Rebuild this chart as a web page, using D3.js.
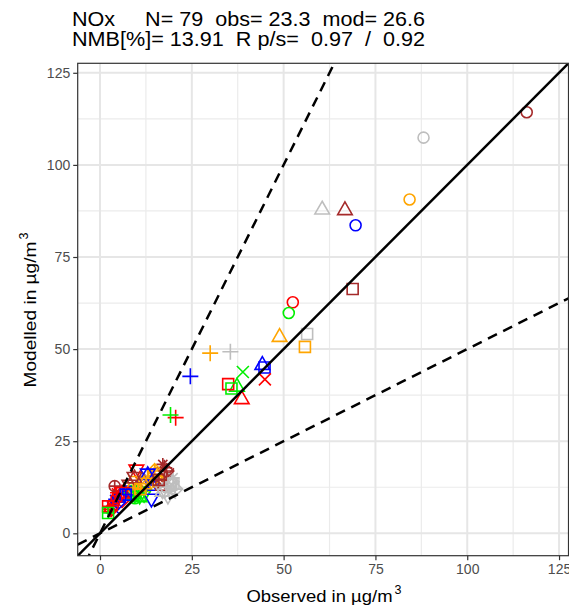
<!DOCTYPE html>
<html>
<head>
<meta charset="utf-8">
<script src="https://cdn.jsdelivr.net/npm/d3@7"></script>
<style>
  html, body { margin: 0; padding: 0; background: #fff; }
  svg { display: block; font-family: "Liberation Sans", Arial, sans-serif; }
</style>
</head>
<body>
<svg id="chart" width="569" height="609"></svg>
<script>
// ---------- DATA ----------
const titleLine1 = "NOx     N= 79  obs= 23.3  mod= 26.6";
const titleLine2 = "NMB[%]= 13.91  R p/s=  0.97  /  0.92";
const xTitle = "Observed in µg/m";
const yTitle = "Modelled in µg/m";
const unitExponent = "3";

const tickValues = [0, 25, 50, 75, 100, 125];
const minorTickValues = [12.5, 37.5, 62.5, 87.5, 112.5];

const colorPalette = { red: "#FF0000", green: "#00EE00", blue: "#0000FF", orange: "#FFA500", gray: "#BEBEBE", brown: "#A52A2A" };

// one entry per station: observed mean, modelled mean, marker shape, marker colour
const obs = [
  52.5, 51.4, 69.6, 84.3, 88.1, 116.2,
  38.6, 37.3, 44.2, 48.9, 60.5, 66.7,
  34.9, 35.8, 44.8, 55.8, 56.4, 68.8,
  20.6, 19.2, 24.6, 30.0, 35.5, 17.5,
  44.9, 38.9, 3.5, 12.0, 19.0, 18.5,
  6.0, 10.0, 12.0, 15.0, 19.5, 17.5,
  9.9, 12.0, 14.0, 10.0, 18.5, 8.0,
  5.0, 9.0, 14.0, 15.8, 19.4, 16.7,
  4.5, 11.0, 4.0, 13.0, 19.9, 17.1,
  3.0, 8.5, 5.0, 14.9, 20.5, 18.1,
  3.5, 9.5, 7.6, 9.0, 18.0, 4.0,
  6.0, 10.8, 13.0, 12.0, 17.0, 9.4,
  2.2, 2.2, 7.0, 11.0, 20.0, 16.0,
  4.5
];
const mod = [
  62.7, 59.8, 83.6, 90.6, 107.4, 114.3,
  36.6, 40.0, 45.9, 53.5, 88.1, 87.9,
  40.5, 39.3, 45.0, 50.6, 54.1, 66.3,
  31.4, 32.1, 42.6, 48.9, 49.3, 17.8,
  41.8, 43.8, 7.0, 12.5, 11.0, 16.0,
  9.0, 11.0, 14.0, 16.0, 14.0, 15.5,
  17.1, 10.5, 9.2, 14.0, 10.0, 13.0,
  10.0, 10.5, 13.2, 14.1, 13.2, 13.2,
  11.0, 11.5, 9.2, 15.0, 15.1, 18.7,
  6.5, 11.0, 8.5, 16.9, 12.0, 16.9,
  7.5, 9.5, 11.4, 12.3, 12.5, 12.8,
  11.0, 10.0, 16.0, 13.5, 11.5, 15.1,
  7.3, 5.5, 10.5, 12.0, 13.5, 14.5,
  9.5
];
const shapeOrder = ["circle", "triangle", "square", "plus", "cross", "diamond", "triangleDown",
  "squareCross", "asterisk", "diamondPlus", "circlePlus", "starDavid", "squarePlus", "circleCross"];
const colorOrder = ["red", "green", "blue", "orange", "gray", "brown"];
const shapes = obs.map((_, i) => shapeOrder[Math.floor(i / 6)]);
const colors = obs.map((_, i) => colorOrder[i % 6]);

const refSlopes = [1, 2, 0.5];   // 1:1, 2:1, 1:2 lines
const domainMin = -6.075, domainMax = 127.575;

// ---------- LAYOUT ----------
const svg = d3.select("#chart");
const panel = { left: 77.7, right: 568.5, top: 63.3, bottom: 555.7 };

const x = d3.scaleLinear().domain([domainMin, domainMax]).range([panel.left, panel.right]);
const y = d3.scaleLinear().domain([domainMin, domainMax]).range([panel.bottom, panel.top]);

// title
const title = svg.append("g").attr("font-size", 19.5).attr("fill", "#000");
[titleLine1, titleLine2].forEach((t, i) => {
  title.append("text").attr("x", 72).attr("y", 26 + i * 19.8)
    .attr("xml:space", "preserve").style("white-space", "pre")
    .attr("textLength", 353).attr("lengthAdjust", "spacingAndGlyphs")
    .text(t);
});

// panel background
svg.append("rect").attr("x", panel.left).attr("y", panel.top)
  .attr("width", panel.right - panel.left).attr("height", panel.bottom - panel.top).attr("fill", "#fff");

// grid
const grid = svg.append("g");
minorTickValues.forEach(v => {
  grid.append("line").attr("x1", x(v)).attr("x2", x(v)).attr("y1", panel.top).attr("y2", panel.bottom)
    .attr("stroke", "#EBEBEB").attr("stroke-width", 1.2);
  grid.append("line").attr("y1", y(v)).attr("y2", y(v)).attr("x1", panel.left).attr("x2", panel.right)
    .attr("stroke", "#EBEBEB").attr("stroke-width", 1.2);
});
tickValues.forEach(v => {
  grid.append("line").attr("x1", x(v)).attr("x2", x(v)).attr("y1", panel.top).attr("y2", panel.bottom)
    .attr("stroke", "#E6E6E6").attr("stroke-width", 2);
  grid.append("line").attr("y1", y(v)).attr("y2", y(v)).attr("x1", panel.left).attr("x2", panel.right)
    .attr("stroke", "#E6E6E6").attr("stroke-width", 2);
});

// clip
svg.append("clipPath").attr("id", "clip").append("rect")
  .attr("x", panel.left).attr("y", panel.top)
  .attr("width", panel.right - panel.left).attr("height", panel.bottom - panel.top);

// marker shapes
function shapePath(type) {
  const p = d3.path();
  const r = 5.5;
  const sq = () => { p.rect(-r, -r, 2 * r, 2 * r); };
  const circ = () => { p.moveTo(r, 0); p.arc(0, 0, r, 0, 2 * Math.PI); p.closePath(); };
  const plus = (a) => { p.moveTo(-a, 0); p.lineTo(a, 0); p.moveTo(0, -a); p.lineTo(0, a); };
  const cross = (a) => { p.moveTo(-a, -a); p.lineTo(a, a); p.moveTo(-a, a); p.lineTo(a, -a); };
  const triUp = () => { p.moveTo(0, -7.5); p.lineTo(7.3, 5.2); p.lineTo(-7.3, 5.2); p.closePath(); };
  const triDown = () => { p.moveTo(0, 7.5); p.lineTo(7.3, -5.2); p.lineTo(-7.3, -5.2); p.closePath(); };
  const diam = () => { p.moveTo(0, -7.3); p.lineTo(7.3, 0); p.lineTo(0, 7.3); p.lineTo(-7.3, 0); p.closePath(); };
  switch (type) {
    case "circle": circ(); break;
    case "triangle": triUp(); break;
    case "square": sq(); break;
    case "plus": plus(8); break;
    case "cross": cross(6); break;
    case "diamond": diam(); break;
    case "triangleDown": triDown(); break;
    case "squareCross": sq(); cross(r); break;
    case "asterisk": plus(6.5); cross(4.6); break;
    case "diamondPlus": diam(); plus(7.3); break;
    case "circlePlus": circ(); plus(r); break;
    case "starDavid": triUp(); triDown(); break;
    case "squarePlus": sq(); plus(r); break;
    case "circleCross": circ(); cross(r * 0.707); break;
  }
  return p.toString();
}

// points
const pts = svg.append("g").attr("clip-path", "url(#clip)");
pts.selectAll("path").data(obs.map((o, i) => ({ o, m: mod[i], s: shapes[i], c: colors[i] })))
  .join("path")
  .attr("transform", d => `translate(${x(d.o)},${y(d.m)})`)
  .attr("d", d => shapePath(d.s))
  .attr("fill", "none")
  .attr("stroke", d => colorPalette[d.c])
  .attr("stroke-width", 1.6);

// reference lines
const lines = svg.append("g").attr("clip-path", "url(#clip)");
refSlopes.forEach(k => {
  lines.append("line")
    .attr("x1", x(domainMin)).attr("y1", y(k * domainMin))
    .attr("x2", x(domainMax)).attr("y2", y(k * domainMax))
    .attr("stroke", "#000").attr("stroke-width", 2.5)
    .attr("stroke-dasharray", k === 1 ? null : "10,7");
});

// border
svg.append("rect").attr("x", panel.left).attr("y", panel.top)
  .attr("width", panel.right - panel.left).attr("height", panel.bottom - panel.top)
  .attr("fill", "none").attr("stroke", "#333333").attr("stroke-width", 1.2);

// axes
const xAxis = d3.axisBottom(x).tickValues(tickValues).tickSize(4.5).tickPadding(4).tickFormat(d3.format("d"));
const yAxis = d3.axisLeft(y).tickValues(tickValues).tickSize(4.5).tickPadding(3).tickFormat(d3.format("d"));
const gx = svg.append("g").attr("transform", `translate(0,${panel.bottom})`).call(xAxis);
const gy = svg.append("g").attr("transform", `translate(${panel.left},0)`).call(yAxis);
[gx, gy].forEach(g => {
  g.select(".domain").remove();
  g.selectAll(".tick line").attr("stroke", "#333333").attr("stroke-width", 1.2);
  g.selectAll(".tick text").attr("fill", "#4D4D4D").attr("font-size", 14)
    .attr("font-family", "'Liberation Sans', Arial, sans-serif");
});

// axis titles
const xtG = svg.append("g").attr("transform", "translate(246.5,602)").attr("fill", "#000");
xtG.append("text").attr("font-size", 16.5)
  .attr("textLength", 146).attr("lengthAdjust", "spacingAndGlyphs").text(xTitle);
xtG.append("text").attr("x", 148).attr("y", -8.5).attr("font-size", 12.5).text(unitExponent);

const ytG = svg.append("g").attr("transform", `translate(36,${(panel.top + panel.bottom) / 2 + 78}) rotate(-90)`).attr("fill", "#000");
ytG.append("text").attr("font-size", 16.5)
  .attr("textLength", 146).attr("lengthAdjust", "spacingAndGlyphs").text(yTitle);
ytG.append("text").attr("x", 148).attr("y", -8.5).attr("font-size", 12.5).text(unitExponent);
</script>
</body>
</html>
